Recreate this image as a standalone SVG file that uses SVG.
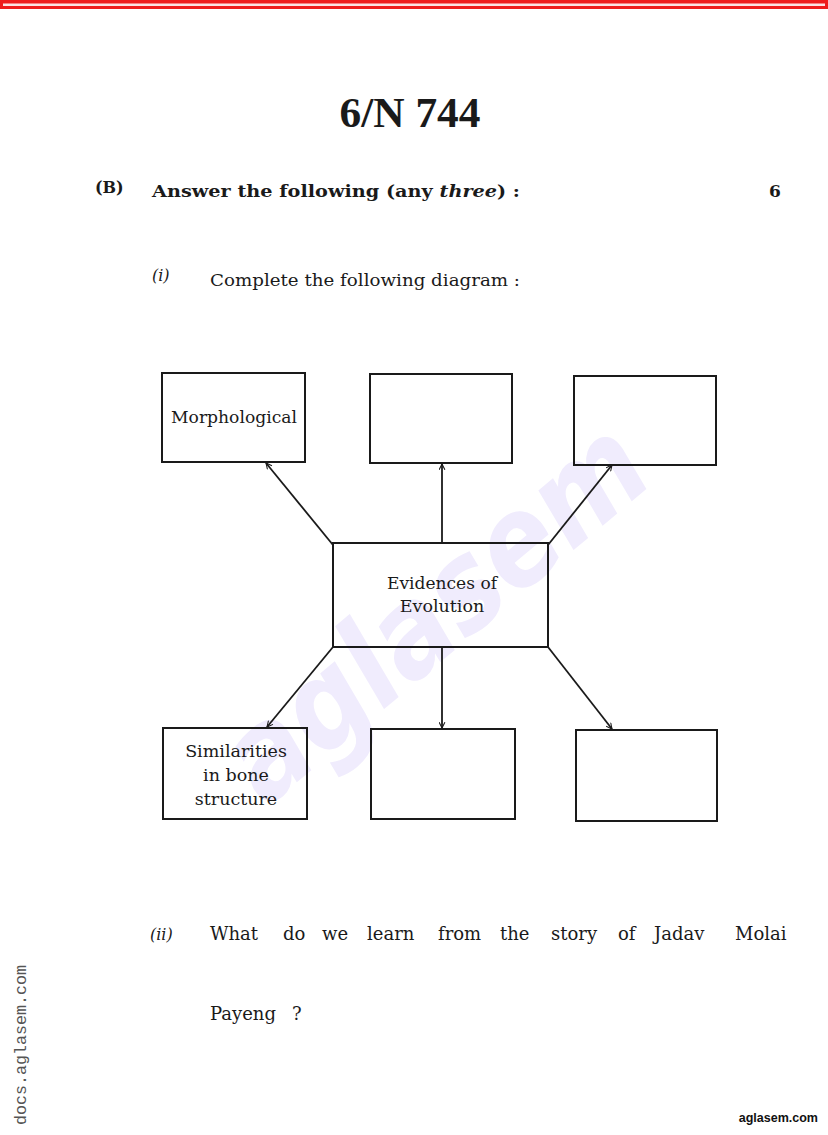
<svg xmlns="http://www.w3.org/2000/svg" width="828" height="1135" viewBox="0 0 828 1135">
<defs>
<style>
.t{font-family:"DejaVu Serif","Liberation Serif",serif;fill:#1a1a1a}
.b{font-weight:bold}
.box{fill:none;stroke:#1a1a1a;stroke-width:2}
.lbl{font-family:"DejaVu Serif","Liberation Serif",serif;font-size:17.5px;fill:#1a1a1a;text-anchor:middle}
.con{stroke:#1a1a1a;stroke-width:1.8;fill:none;marker-end:url(#ah)}
</style>
<marker id="ah" viewBox="0 0 12 12" refX="11" refY="6" markerWidth="7" markerHeight="7" orient="auto" markerUnits="userSpaceOnUse">
<path d="M1,1 L11,6 L1,11" fill="none" stroke="#1a1a1a" stroke-width="1.8"/>
</marker>
</defs>
<rect x="0" y="0" width="828" height="1135" fill="#ffffff"/>
<rect x="0" y="0" width="828" height="9" fill="#ee1c1c"/>
<rect x="3" y="3.5" width="822" height="2.5" fill="#fbe3e3"/>

<text x="435" y="650" transform="rotate(-40 440 610)" font-family="'DejaVu Sans','Liberation Sans',sans-serif" font-style="italic" font-weight="bold" font-size="125" fill="#f0ecfd" text-anchor="middle" textLength="510" lengthAdjust="spacingAndGlyphs">aglasem</text>

<text class="t b" x="410" y="127" font-size="42" text-anchor="middle" textLength="141" lengthAdjust="spacingAndGlyphs" style="font-family:'Liberation Serif',serif">6/N 744</text>
<text class="t b" x="95" y="193" font-size="16">(B)</text>
<text class="t b" x="152" y="197" font-size="17" textLength="368" lengthAdjust="spacingAndGlyphs">Answer the following (any <tspan font-style="italic">three</tspan>) :</text>
<text class="t b" x="769" y="197" font-size="17">6</text>
<text class="t" x="152" y="281" font-size="16" font-style="italic">(i)</text>
<text class="t" x="210" y="286" font-size="17" textLength="310" lengthAdjust="spacingAndGlyphs">Complete the following diagram :</text>

<g id="connectors">
<line class="con" x1="333" y1="545" x2="266" y2="463"/>
<line class="con" x1="442" y1="543" x2="442" y2="464"/>
<line class="con" x1="548" y1="545" x2="612" y2="465"/>
<line class="con" x1="333" y1="647" x2="267" y2="727"/>
<line class="con" x1="442" y1="647" x2="442" y2="728"/>
<line class="con" x1="548" y1="647" x2="612" y2="729"/>
</g>

<g id="n-morph">
<rect class="box" x="162" y="373" width="143" height="89"/>
<text class="lbl" x="234" y="423" textLength="126" lengthAdjust="spacingAndGlyphs">Morphological</text>
</g>
<g id="n-top-mid"><rect class="box" x="370" y="374" width="142" height="89"/></g>
<g id="n-top-right"><rect class="box" x="574" y="376" width="142" height="89"/></g>
<g id="n-center">
<rect class="box" x="333" y="543" width="215" height="104"/>
<text class="lbl" x="442" y="589" textLength="110" lengthAdjust="spacingAndGlyphs">Evidences of</text>
<text class="lbl" x="442" y="612">Evolution</text>
</g>
<g id="n-bone">
<rect class="box" x="163" y="728" width="144" height="91"/>
<text class="lbl" x="236" y="757">Similarities</text>
<text class="lbl" x="236" y="781">in bone</text>
<text class="lbl" x="236" y="805">structure</text>
</g>
<g id="n-bot-mid"><rect class="box" x="371" y="729" width="144" height="90"/></g>
<g id="n-bot-right"><rect class="box" x="576" y="730" width="141" height="91"/></g>

<text class="t" x="150" y="940" font-size="16" font-style="italic">(ii)</text>
<text class="t" y="940" font-size="18"><tspan x="210">What</tspan><tspan x="283">do</tspan><tspan x="322">we</tspan><tspan x="367">learn</tspan><tspan x="438">from</tspan><tspan x="500">the</tspan><tspan x="551">story</tspan><tspan x="618">of</tspan><tspan x="654">Jadav</tspan><tspan x="735">Molai</tspan></text>
<text class="t" y="1020" font-size="18"><tspan x="210">Payeng</tspan><tspan x="292">?</tspan></text>

<text x="818" y="1122" font-family="'Liberation Sans',Arial,sans-serif" font-weight="bold" font-size="12.5" fill="#111" text-anchor="end">aglasem.com</text>
<text x="0" y="0" transform="translate(26 1125) rotate(-90)" font-family="'Liberation Mono','DejaVu Sans Mono',monospace" font-size="16" fill="#555" textLength="160" lengthAdjust="spacingAndGlyphs">docs.aglasem.com</text>
</svg>
